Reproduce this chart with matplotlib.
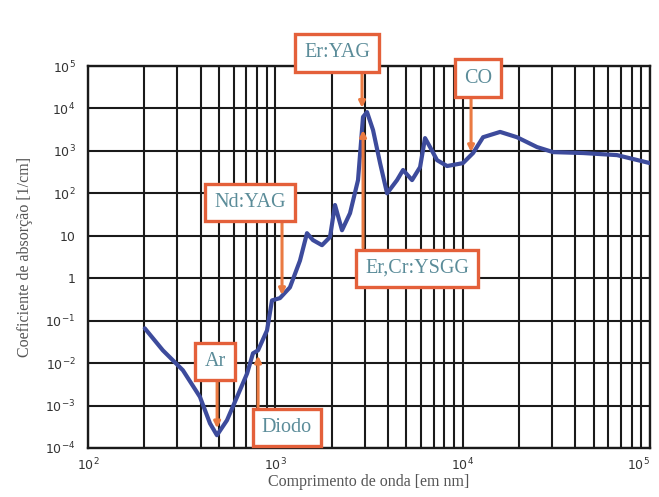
import matplotlib
matplotlib.use("Agg")
import matplotlib.pyplot as plt
from matplotlib.ticker import FixedLocator, FixedFormatter, LogLocator, NullFormatter

# water absorption curve
wavelength_nm = [201, 251, 321, 396, 448, 488, 552, 625, 707, 760, 809, 903,
                 960, 1059, 1197, 1354, 1476, 1589, 1775, 1958, 2083, 2270,
                 2505, 2764, 2939, 3088, 3324, 3625, 3950, 4465, 4808, 5370,
                 5926, 6300, 6700, 7300, 8260, 10040, 11370, 12860, 15850,
                 19500, 24950, 30400, 43950, 66700, 100000]
absorption = [0.066, 0.020, 0.0068, 0.0016, 3.8e-4, 2.0e-4, 4.5e-4, 1.6e-3,
              5.7e-3, 0.017, 0.020, 0.059, 0.30, 0.34, 0.61, 2.6, 11.5, 7.9,
              6.0, 9.3, 53, 13.5, 34, 205, 6300, 8200, 3100, 515, 100, 205,
              355, 205, 415, 2000, 1230, 605, 440, 515, 890, 2100, 2800,
              2100, 1230, 935, 890, 795, 515]

x_ticks = [1e2, 1e3, 1e4, 1e5]
x_tick_labels = [r"$10^2$", r"$10^3$", r"$10^4$", r"$10^5$"]
y_ticks = [1e-4, 1e-3, 1e-2, 1e-1, 1, 10, 1e2, 1e3, 1e4, 1e5]
y_tick_labels = [r"$10^{-4}$", r"$10^{-3}$", r"$10^{-2}$", r"$10^{-1}$", "1",
                 "10", r"$10^2$", r"$10^3$", r"$10^4$", r"$10^5$"]

lasers = ["Ar", "Diodo", "Nd:YAG", "Er,Cr:YSGG", "Er:YAG", "CO"]
# box centre (nm, 1/cm), arrow x (nm), arrow tail y, arrow head y
box_xy = [(477, 0.011), (1153, 3.1e-4), (733, 62), (5715, 1.73),
          (2133, 2.03e5), (12080, 5.2e4)]
arrows = [(489, 3.9e-3, 2.9e-4), (809, 9.1e-4, 0.015), (1086, 21, 0.40),
          (2940, 5.2, 3100), (2904, 6.8e4, 1.03e4), (11090, 1.67e4, 935)]

box_edge = "#e4603a"
arrow_col = "#ea7a42"
text_col = "#5b8c99"
curve_col = "#3d4b9c"

fig = plt.figure(figsize=(6.59, 4.97), dpi=100)
ax = fig.add_axes([0.1335, 0.0986, 0.8528, 0.7686])

ax.plot(wavelength_nm, absorption, color=curve_col, lw=3.0, zorder=3,
        solid_joinstyle="round", solid_capstyle="round")
ax.set_xscale("log")
ax.set_yscale("log")
ax.set_xlim(1e2, 1e5)
ax.set_ylim(1e-4, 1e5)

ax.xaxis.set_major_locator(FixedLocator(x_ticks))
ax.xaxis.set_major_formatter(FixedFormatter(x_tick_labels))
ax.xaxis.set_minor_locator(LogLocator(base=10, subs=range(2, 10), numticks=20))
ax.xaxis.set_minor_formatter(NullFormatter())
ax.yaxis.set_major_locator(FixedLocator(y_ticks))
ax.yaxis.set_major_formatter(FixedFormatter(y_tick_labels))
ax.yaxis.set_minor_locator(FixedLocator([]))

ax.grid(which="major", color="#1a1a1a", lw=1.5)
ax.grid(which="minor", axis="x", color="#1a1a1a", lw=1.5)
ax.tick_params(which="both", length=0, labelsize=9, labelcolor="#333333")
ax.tick_params(axis="x", pad=6)
ax.tick_params(axis="y", pad=9)
for s in ax.spines.values():
    s.set_linewidth(1.7)
    s.set_color("#1a1a1a")

fig.canvas.draw()
xlabels = ax.get_xticklabels()
xlabels[-1].set_horizontalalignment("right")
xlabels[0].set_horizontalalignment("center")

ax.set_xlabel("Comprimento de onda [em nm]", family="Liberation Serif",
              fontsize=11.5, color="#555555", labelpad=1)
ax.set_ylabel("Coeficiente de absorção [1/cm]", family="Liberation Serif",
              fontsize=11.5, color="#555555", labelpad=9)

for name, (bx, by), (axx, ty, hy) in zip(lasers, box_xy, arrows):
    ax.annotate("", xy=(axx, hy), xytext=(axx, ty),
                arrowprops=dict(arrowstyle="-|>", color=arrow_col, lw=2.2,
                                mutation_scale=9, shrinkA=0, shrinkB=0),
                annotation_clip=False, zorder=4)
    ax.text(bx, by, name, ha="center", va="center", family="Liberation Serif",
            fontsize=14.5, color=text_col, zorder=5, clip_on=False,
            bbox=dict(boxstyle="square,pad=0.45", fc="white", ec=box_edge,
                      lw=2.4))

fig.savefig("out.png", dpi=100)
